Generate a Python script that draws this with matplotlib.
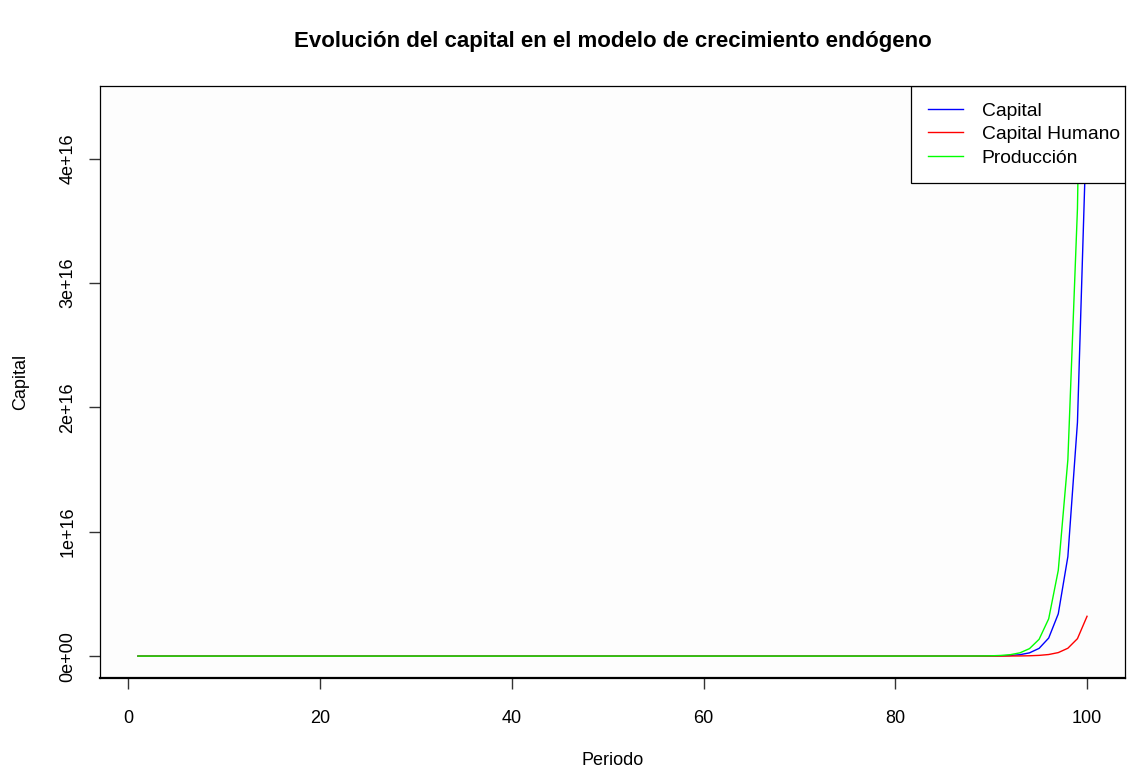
import numpy as np
import matplotlib
matplotlib.use("Agg")
import matplotlib.pyplot as plt

plt.rcParams['font.family'] = ['Liberation Sans', 'DejaVu Sans']

# Periods of the simulation
periodo = list(range(1, 101))

# Series values in units of 1e16 (periods 1..100)
capital_1e16 = [
    0, 0, 0, 0, 0, 0, 0, 0, 0, 0,
    0, 0, 0, 0, 0, 0, 0, 0, 0, 0,
    0, 0, 0, 0, 0, 0, 0, 0, 0, 0,
    0, 0, 0, 0, 0, 0, 0, 0, 0, 0,
    0, 0, 0, 0, 0, 0, 0, 0, 0, 0,
    0, 0, 0, 0, 0, 0, 0, 0, 0, 0,
    0, 0, 0, 0, 0, 0, 0, 0, 0, 0,
    0, 0, 0, 0, 0, 0, 0, 0, 0, 0,
    0, 0, 0, 0, 0, 0.00003, 0.00007, 0.00016, 0.0004, 0.0009,
    0.002, 0.0048, 0.011, 0.026, 0.062, 0.145, 0.34, 0.80, 1.88, 4.41,
]
capital_humano_1e16 = [
    0, 0, 0, 0, 0, 0, 0, 0, 0, 0,
    0, 0, 0, 0, 0, 0, 0, 0, 0, 0,
    0, 0, 0, 0, 0, 0, 0, 0, 0, 0,
    0, 0, 0, 0, 0, 0, 0, 0, 0, 0,
    0, 0, 0, 0, 0, 0, 0, 0, 0, 0,
    0, 0, 0, 0, 0, 0, 0, 0, 0, 0,
    0, 0, 0, 0, 0, 0, 0, 0, 0, 0,
    0, 0, 0, 0, 0, 0, 0, 0, 0, 0,
    0, 0, 0, 0, 0, 0, 0, 0.00002, 0.00005, 0.0001,
    0.0002, 0.0005, 0.0011, 0.0025, 0.0056, 0.0125, 0.028, 0.063, 0.14, 0.32,
]
produccion_1e16 = [
    0, 0, 0, 0, 0, 0, 0, 0, 0, 0,
    0, 0, 0, 0, 0, 0, 0, 0, 0, 0,
    0, 0, 0, 0, 0, 0, 0, 0, 0, 0,
    0, 0, 0, 0, 0, 0, 0, 0, 0, 0,
    0, 0, 0, 0, 0, 0, 0, 0, 0, 0,
    0, 0, 0, 0, 0, 0, 0, 0, 0, 0,
    0, 0, 0, 0, 0, 0, 0, 0, 0, 0,
    0, 0, 0, 0, 0, 0, 0, 0, 0, 0,
    0, 0, 0, 0, 0, 0.00008, 0.0002, 0.0004, 0.001, 0.0022,
    0.005, 0.0115, 0.026, 0.06, 0.135, 0.30, 0.69, 1.58, 3.6, 8.2,
]

x_ticks = [0, 20, 40, 60, 80, 100]
y_ticks = [0, 1e16, 2e16, 3e16, 4e16]
y_tick_labels = ["0e+00", "1e+16", "2e+16", "3e+16", "4e+16"]
series_names = ["Capital", "Capital Humano", "Producción"]
series_colors = ["#0000ff", "#ff0000", "#00ff00"]

capital = np.array(capital_1e16) * 1e16
capital_humano = np.array(capital_humano_1e16) * 1e16
produccion = np.array(produccion_1e16) * 1e16

W, H = 1135, 769
fig = plt.figure(figsize=(W / 100, H / 100), dpi=100)
fig.patch.set_facecolor("white")
ax = fig.add_axes([100 / W, 1 - 678 / H, (1125 - 100) / W, (678 - 86) / H])
ax.set_facecolor("#fdfdfd")

for y, name, col in zip([capital, capital_humano, produccion], series_names, series_colors):
    ax.plot(periodo, y, color=col, lw=1.0, label=name)

# R-style axis ranges: 4% padding around the first series
xmin, xmax = min(periodo), max(periodo)
dx = (xmax - xmin) * 0.04
ax.set_xlim(xmin - dx, xmax + dx)
ymin, ymax = capital.min(), capital.max()
dy = (ymax - ymin) * 0.04
ax.set_ylim(ymin - dy, ymax + dy)

ax.set_xticks(x_ticks)
ax.set_xticklabels([str(t) for t in x_ticks])
ax.set_yticks(y_ticks)
ax.set_yticklabels(y_tick_labels, rotation=90, va="center")
ax.tick_params(axis="both", direction="out", length=8, width=1, colors="#333333",
               labelsize=13, labelcolor="black")
ax.tick_params(axis="x", pad=15)
ax.tick_params(axis="y", pad=9)

for s in ax.spines.values():
    s.set_color("black")
    s.set_linewidth(0.9)
    s.set_zorder(6)
ax.spines["bottom"].set_linewidth(1.6)

ax.set_xlabel("Periodo", fontsize=13, labelpad=18)
ax.set_ylabel("Capital", fontsize=13, labelpad=22)
ax.set_title("Evolución del capital en el modelo de crecimiento endógeno",
             fontsize=16, fontweight="bold", pad=28)

# Legend pushed against the right edge of the plot box; its frame is clipped
# to the axes so the box shares the right spine.
leg = ax.legend(loc="upper right", bbox_to_anchor=(1 + 11 / 1025, 1),
                borderaxespad=0, fancybox=False, framealpha=1,
                edgecolor="black", fontsize=13.9, handlelength=1.85, handletextpad=0.95,
                labelspacing=0.3, borderpad=0.85)
frame = leg.get_frame()
frame.set_linewidth(0.9)
frame.set_clip_on(True)
frame.set_clip_box(ax.bbox)

fig.savefig("out.png", dpi=100)
